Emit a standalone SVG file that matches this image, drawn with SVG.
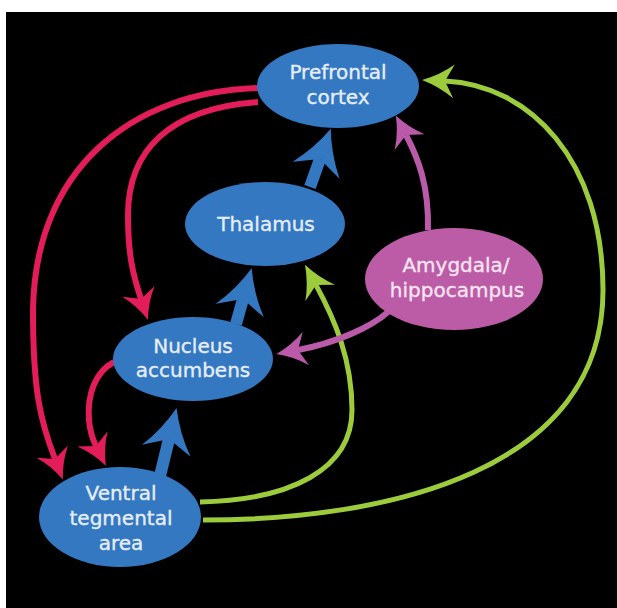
<svg xmlns="http://www.w3.org/2000/svg" width="617" height="608" viewBox="0 0 617 608">
<style>
.bg{fill:#000}
.blue{fill:#3478c2}
.mag{fill:#bd5ca6}
.t{font-family:"DejaVu Sans",sans-serif;font-size:20px;text-anchor:middle;fill:#e6eef8;stroke:#e6eef8;stroke-width:0.35}
.tm{fill:#f6e4f2;stroke:#f6e4f2}
.red{fill:none;stroke:#e31c5a;stroke-width:6}
.grn{fill:none;stroke:#9ccc3c;stroke-width:5}
.pnk{fill:none;stroke:#bb5aa8;stroke-width:6}
.bl{fill:none;stroke:#3478c2;stroke-width:12}
</style>
<defs>
<marker id="mRed" markerUnits="userSpaceOnUse" orient="auto" viewBox="0 -17 30 34" markerWidth="30" markerHeight="34" refX="8" refY="0">
<path d="M30,0 Q13,-6 0,-17 L8,0 L0,17 Q13,6 30,0 Z" fill="#e31c5a"/>
</marker>
<marker id="mGrn" markerUnits="userSpaceOnUse" orient="auto" viewBox="0 -17 32 34" markerWidth="32" markerHeight="34" refX="9" refY="0">
<path d="M32,0 Q14,-6 0,-17 L9,0 L0,17 Q14,6 32,0 Z" fill="#9ccc3c"/>
</marker>
<marker id="mPnk" markerUnits="userSpaceOnUse" orient="auto" viewBox="0 -17 30 34" markerWidth="30" markerHeight="34" refX="8" refY="0">
<path d="M30,0 Q13,-6 0,-17 L8,0 L0,17 Q13,6 30,0 Z" fill="#bb5aa8"/>
</marker>
<marker id="mBl" markerUnits="userSpaceOnUse" orient="auto" viewBox="0 -25 44 50" markerWidth="44" markerHeight="50" refX="12" refY="0">
<path d="M44,0 Q20,-9 0,-25 L12,0 L0,25 Q20,9 44,0 Z" fill="#3478c2"/>
</marker>
</defs>
<rect x="6" y="12" width="611" height="596" class="bg"/>
<g id="connectors">
<path class="red" marker-end="url(#mRed)" d="M258,88 C130,92 35,170 33,310 C33,390 40,420 55,459"/>
<path class="red" marker-end="url(#mRed)" d="M258,102 C170,108 128,150 128,215 C128,255 133,275 141,299"/>
<path class="red" marker-end="url(#mRed)" d="M114,362 C95,372 87,395 89,420 C90,432 93,440 96,446"/>
<path class="bl" marker-end="url(#mBl)" d="M160,476 L169,439"/>
<path class="bl" marker-end="url(#mBl)" d="M236,324 L243,299"/>
<path class="bl" marker-end="url(#mBl)" d="M310,187 L320,159"/>
<path class="grn" marker-end="url(#mGrn)" d="M200,502 C290,500 352,470 352,410 C352,360 335,320 316,285"/>
<path class="grn" marker-end="url(#mGrn)" d="M203,520 C390,520 603,470 603,290 C603,160 530,85 445,81"/>
<path class="pnk" marker-end="url(#mPnk)" d="M428,230 C429,185 418,158 406,135"/>
<path class="pnk" marker-end="url(#mPnk)" d="M388,312 C370,328 335,343 298,350"/>
</g>
<g id="prefrontal">
<ellipse class="blue" cx="338" cy="86" rx="81" ry="42"/>
<text class="t" x="338" y="79">Prefrontal</text>
<text class="t" x="338" y="104">cortex</text>
</g>
<g id="thalamus">
<ellipse class="blue" cx="265" cy="224" rx="80" ry="42"/>
<text class="t" x="266" y="231">Thalamus</text>
</g>
<g id="nucleus">
<ellipse class="blue" cx="193" cy="359" rx="80" ry="42"/>
<text class="t" x="193" y="353">Nucleus</text>
<text class="t" x="193" y="377">accumbens</text>
</g>
<g id="vta">
<ellipse class="blue" cx="120" cy="517" rx="81" ry="50"/>
<text class="t" x="121" y="500">Ventral</text>
<text class="t" x="121" y="525">tegmental</text>
<text class="t" x="121" y="550">area</text>
</g>
<g id="amygdala">
<ellipse class="mag" cx="454" cy="279" rx="89" ry="51"/>
<text class="t tm" x="456" y="272">Amygdala/</text>
<text class="t tm" x="457" y="297">hippocampus</text>
</g>
</svg>
